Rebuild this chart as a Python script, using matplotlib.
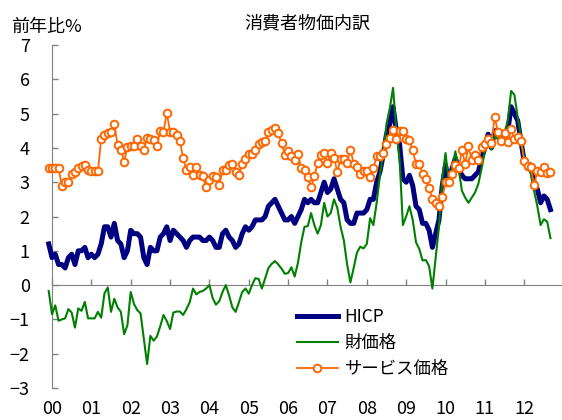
import numpy as np
import matplotlib
matplotlib.use('Agg')
import matplotlib.pyplot as plt

plt.rcParams['font.family'] = ['Liberation Sans Narrow', 'Noto Sans CJK JP', 'DejaVu Sans']

# monthly, Dec 1999 .. Sep 2012 (前年比%)
hicp = [1.2,
        0.8, 0.9, 0.6, 0.6, 0.5, 0.8, 0.9, 0.6, 1.0, 1.0, 1.1, 0.8,
        0.9, 0.8, 0.9, 1.2, 1.7, 1.7, 1.4, 1.8, 1.3, 1.2, 0.8, 1.0,
        1.6, 1.5, 1.5, 1.4, 0.8, 0.6, 1.1, 1.0, 1.0, 1.4, 1.5, 1.7,
        1.3, 1.6, 1.5, 1.4, 1.3, 1.1, 1.3, 1.4, 1.4, 1.4, 1.3, 1.3,
        1.4, 1.3, 1.1, 1.1, 1.5, 1.6, 1.4, 1.3, 1.1, 1.2, 1.5, 1.7,
        1.6, 1.7, 1.9, 1.9, 1.9, 2.0, 2.3, 2.4, 2.5, 2.3, 2.1, 1.9,
        1.9, 2.0, 1.8, 2.0, 2.2, 2.5, 2.4, 2.5, 2.4, 2.4, 2.7, 3.0,
        2.7, 2.8, 3.1, 2.8, 2.5, 2.4, 1.9, 1.8, 1.8, 2.1, 2.1, 2.1,
        2.2, 2.5, 2.5, 3.0, 3.3, 3.8, 4.4, 4.7, 5.2, 4.5, 4.1, 3.1,
        3.0, 3.2, 2.9, 2.3, 2.2, 1.8, 1.8, 1.6, 1.1, 1.5, 1.9, 2.9,
        3.5, 3.0, 3.4, 3.7, 3.4, 3.2, 3.1, 3.1, 3.1, 3.2, 3.3, 3.7,
        4.0, 4.4, 4.0, 4.5, 4.5, 4.2, 4.4, 4.5, 5.2, 5.0, 4.8, 4.2,
        3.6, 3.4, 3.5, 3.0, 2.8, 2.4, 2.6, 2.5, 2.2]

goods = [-0.17,
         -0.85, -0.59, -1.04, -1.0, -0.97, -0.7, -0.8, -1.24, -0.68, -0.75, -0.49, -0.97,
         -0.97, -0.97, -0.78, -0.95, -0.24, -0.07, -0.78, -0.4, -0.65, -0.78, -1.43, -1.17,
         -0.2, -0.55, -0.73, -0.82, -1.55, -2.3, -1.48, -1.62, -1.5, -1.2, -0.87, -1.05,
         -1.28, -0.8, -0.77, -0.77, -0.87, -0.7, -0.5, -0.1, -0.27, -0.2, -0.17, -0.1,
         0.0, -0.38, -0.57, -0.47, -0.2, 0.0, -0.3, -0.65, -0.78, -0.5, -0.2, -0.1,
         -0.25, 0.0, 0.2, 0.18, -0.1, 0.2, 0.5, 0.62, 0.7, 0.6, 0.48, 0.33,
         0.35, 0.52, 0.25, 0.65, 1.25, 1.7, 1.72, 2.1, 1.75, 1.5, 1.75, 2.4,
         2.0, 2.1, 2.5, 2.25, 1.7, 1.3, 0.6, 0.08, 0.5, 0.95, 1.12, 1.07,
         1.2, 1.95, 1.75, 2.4, 3.2, 3.85, 4.7, 5.15, 5.75, 4.5, 3.65, 1.75,
         2.0, 2.3, 1.9, 1.25, 1.05, 0.72, 0.73, 0.55, -0.1, 0.8, 1.7, 3.1,
         3.85, 3.0, 3.4, 3.9, 3.4, 2.75, 2.55, 2.4, 2.55, 2.7, 2.95, 3.4,
         3.9, 4.22, 3.95, 4.35, 4.25, 4.35, 4.45, 4.8, 5.66, 5.55, 4.9, 4.35,
         3.7, 3.45, 3.25, 2.75, 2.3, 1.75, 1.92, 1.85, 1.37]

services = [3.42,
            3.42, 3.42, 3.42, 2.88, 3.0, 3.0, 3.25, 3.3, 3.4, 3.48, 3.5, 3.35,
            3.32, 3.32, 3.32, 4.27, 4.37, 4.42, 4.47, 4.7, 4.08, 3.95, 3.6, 4.03,
            4.05, 4.05, 4.25, 4.05, 3.95, 4.3, 4.27, 4.24, 4.05, 4.5, 4.47, 5.03,
            4.47, 4.47, 4.37, 4.2, 3.7, 3.35, 3.45, 3.2, 3.45, 3.2, 3.17, 2.85,
            3.06, 3.17, 3.14, 2.92, 3.35, 3.37, 3.5, 3.52, 3.3, 3.22, 3.52, 3.69,
            3.83, 3.82, 3.93, 4.1, 4.17, 4.2, 4.45, 4.53, 4.57, 4.42, 4.13, 3.8,
            3.9, 3.75, 3.65, 3.83, 3.4, 3.35, 3.14, 2.86, 3.17, 3.55, 3.79, 3.85,
            3.57, 3.85, 3.72, 3.3, 3.69, 3.67, 3.57, 3.95, 3.54, 3.45, 3.25, 3.33,
            3.33, 3.15, 3.4, 3.77, 3.77, 3.85, 4.1, 4.3, 4.53, 4.25, 4.5, 4.5,
            4.25, 4.22, 3.93, 3.54, 3.52, 3.25, 3.1, 2.84, 2.5, 2.4, 2.3, 2.57,
            3.0, 3.0, 3.25, 3.5, 3.4, 3.93, 3.54, 4.05, 3.64, 3.8, 3.64, 4.03,
            4.1, 4.27, 4.15, 4.9, 4.45, 4.2, 4.42, 4.17, 4.55, 4.25, 4.32, 4.2,
            3.62, 3.48, 3.45, 2.91, 3.32, 3.3, 3.45, 3.27, 3.3]

year_labels = ['00', '01', '02', '03', '04', '05', '06', '07', '08', '09', '10', '11', '12']

# years since Jan 2000; first point is Dec 1999
x = (np.arange(len(hicp)) - 1) / 12.0

fig = plt.figure(figsize=(5.62, 4.2), dpi=100)
ax = fig.add_axes([52/562, 1 - 388/420, 510/562, 343/420])

ax.plot(x, hicp, color='#000080', lw=3.6, label='HICP', clip_on=False, zorder=3)
ax.plot(x, goods, color='#008000', lw=1.5, label='財価格', clip_on=False, zorder=4)
ax.plot(x, services, color='#FF6600', lw=1.3, marker='o', ms=5.5, mfc='white',
        mec='#FF6600', mew=1.4, label='サービス価格', clip_on=False, zorder=5)

ax.set_xlim(0, 12.96)
ax.set_ylim(-3, 7)
ax.set_xticks(range(len(year_labels)))
ax.set_xticklabels(year_labels)
ax.set_yticks(range(-3, 8))

for s in ['top', 'right']:
    ax.spines[s].set_visible(False)
ax.spines['left'].set_color('#808080')
ax.spines['bottom'].set_color('#808080')
ax.spines['bottom'].set_position(('data', 0))
ax.tick_params(axis='y', direction='in', length=4, width=1, color='#808080',
               pad=16, labelsize=13)
ax.tick_params(axis='x', direction='in', length=4, width=1, color='#808080',
               pad=83, labelsize=13)

fig.text(307/562, 1 - 23/420, '消費者物価内訳', ha='center', va='center', fontsize=13)
fig.text(11/562, 1 - 27/420, '前年比%', ha='left', va='center', fontsize=13)

ax.legend(loc='upper left', bbox_to_anchor=(297/562, 1 - 308/420),
          bbox_transform=fig.transFigure, frameon=False, fontsize=12.5,
          handlelength=2.35, handletextpad=0.4, labelspacing=0.45,
          borderpad=0, borderaxespad=0)

fig.savefig('out.png', dpi=100)
